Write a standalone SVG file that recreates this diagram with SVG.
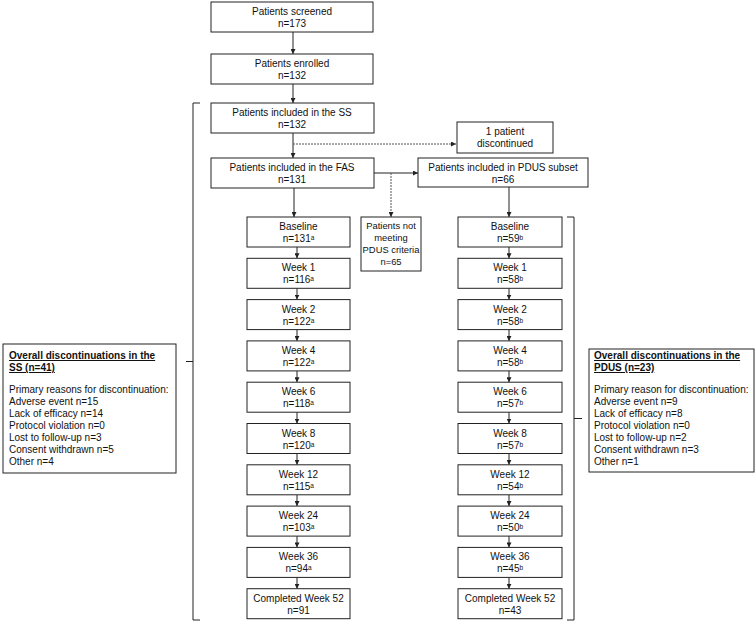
<svg xmlns="http://www.w3.org/2000/svg" width="756" height="626" viewBox="0 0 756 626">
<style>
text{font-family:"Liberation Sans",Arial,sans-serif;font-size:10px;fill:#111}
.c{text-anchor:middle}
.sm{font-size:9.4px}
.box{fill:#fff;stroke:#222;stroke-width:1}
.ln{fill:none;stroke:#222;stroke-width:1}
.dt{fill:none;stroke:#555;stroke-width:1;stroke-dasharray:2 1}
.sup{font-size:6.5px}
.h{font-weight:bold;text-decoration:underline}
</style>
<defs>
<marker id="ah" viewBox="0 0 10 10" refX="10" refY="5" markerWidth="5" markerHeight="5" orient="auto" markerUnits="userSpaceOnUse"><path d="M0,0 L10,5 L0,10 z" fill="#222"/></marker>
</defs>
<rect width="756" height="626" fill="#fff"/>
<g id="connectors">
<line class="ln" x1="293" y1="32" x2="293" y2="54" marker-end="url(#ah)"/>
<line class="ln" x1="293" y1="84" x2="293" y2="103" marker-end="url(#ah)"/>
<line class="ln" x1="293" y1="133" x2="293" y2="158" marker-end="url(#ah)"/>
<line class="dt" x1="293" y1="144" x2="456" y2="144" marker-end="url(#ah)"/>
<line class="ln" x1="374" y1="173" x2="418" y2="173" marker-end="url(#ah)"/>
<line class="dt" x1="391" y1="173" x2="391" y2="217" marker-end="url(#ah)"/>
<line class="ln" x1="294" y1="188" x2="294" y2="217" marker-end="url(#ah)"/>
<line class="ln" x1="509" y1="187" x2="509" y2="217" marker-end="url(#ah)"/>
<g id="leftarrows">
<line class="ln" x1="297" y1="247" x2="297" y2="258.3" marker-end="url(#ah)"/>
<line class="ln" x1="297" y1="288.3" x2="297" y2="299.6" marker-end="url(#ah)"/>
<line class="ln" x1="297" y1="329.6" x2="297" y2="340.9" marker-end="url(#ah)"/>
<line class="ln" x1="297" y1="370.9" x2="297" y2="382.2" marker-end="url(#ah)"/>
<line class="ln" x1="297" y1="412.2" x2="297" y2="423.5" marker-end="url(#ah)"/>
<line class="ln" x1="297" y1="453.5" x2="297" y2="464.8" marker-end="url(#ah)"/>
<line class="ln" x1="297" y1="494.8" x2="297" y2="506.1" marker-end="url(#ah)"/>
<line class="ln" x1="297" y1="536.1" x2="297" y2="547.4" marker-end="url(#ah)"/>
<line class="ln" x1="297" y1="577.4" x2="297" y2="588.7" marker-end="url(#ah)"/>
</g>
<g id="rightarrows">
<line class="ln" x1="509" y1="247" x2="509" y2="258.3" marker-end="url(#ah)"/>
<line class="ln" x1="509" y1="288.3" x2="509" y2="299.6" marker-end="url(#ah)"/>
<line class="ln" x1="509" y1="329.6" x2="509" y2="340.9" marker-end="url(#ah)"/>
<line class="ln" x1="509" y1="370.9" x2="509" y2="382.2" marker-end="url(#ah)"/>
<line class="ln" x1="509" y1="412.2" x2="509" y2="423.5" marker-end="url(#ah)"/>
<line class="ln" x1="509" y1="453.5" x2="509" y2="464.8" marker-end="url(#ah)"/>
<line class="ln" x1="509" y1="494.8" x2="509" y2="506.1" marker-end="url(#ah)"/>
<line class="ln" x1="509" y1="536.1" x2="509" y2="547.4" marker-end="url(#ah)"/>
<line class="ln" x1="509" y1="577.4" x2="509" y2="588.7" marker-end="url(#ah)"/>
</g>
<path class="ln" d="M200,103 H193 V620 H200 M193,361.5 H186"/>
<path class="ln" d="M567,217 H574 V620 H567 M574,418.5 H582"/>
</g>
<g id="screened"><rect class="box" x="211" y="2" width="162" height="30"/><text class="c" x="292" y="15">Patients screened</text><text class="c" x="292" y="27">n=173</text></g>
<g id="enrolled"><rect class="box" x="211" y="54" width="162" height="30"/><text class="c" x="292" y="67">Patients enrolled</text><text class="c" x="292" y="79">n=132</text></g>
<g id="ss"><rect class="box" x="211" y="103" width="163" height="30"/><text class="c" x="292" y="116">Patients included in the SS</text><text class="c" x="292" y="128">n=132</text></g>
<g id="disc1"><rect class="box" x="457" y="122" width="96" height="31"/><text class="c" x="505" y="135">1 patient</text><text class="c" x="505" y="147">discontinued</text></g>
<g id="fas"><rect class="box" x="211" y="158" width="163" height="30"/><text class="c" x="292" y="171">Patients included in the FAS</text><text class="c" x="292" y="183">n=131</text></g>
<g id="pdus"><rect class="box" x="418" y="158" width="170" height="29"/><text class="c" x="503" y="171">Patients included in PDUS subset</text><text class="c" x="503" y="183">n=66</text></g>
<g id="notmeeting"><rect class="box" x="361" y="217" width="60" height="54"/><text class="c sm" x="391" y="229">Patients not</text><text class="c sm" x="391" y="241">meeting</text><text class="c sm" x="391" y="253">PDUS criteria</text><text class="c sm" x="391" y="265">n=65</text></g>
<g id="L0"><rect class="box" x="247" y="217" width="103" height="30"/><text class="c" x="298.5" y="230">Baseline</text><text class="c" x="298.5" y="242">n=131<tspan class="sup" dy="-2">a</tspan></text></g>
<g id="L1"><rect class="box" x="247" y="258.3" width="103" height="30"/><text class="c" x="298.5" y="271.3">Week 1</text><text class="c" x="298.5" y="283.3">n=116<tspan class="sup" dy="-2">a</tspan></text></g>
<g id="L2"><rect class="box" x="247" y="299.6" width="103" height="30"/><text class="c" x="298.5" y="312.6">Week 2</text><text class="c" x="298.5" y="324.6">n=122<tspan class="sup" dy="-2">a</tspan></text></g>
<g id="L3"><rect class="box" x="247" y="340.9" width="103" height="30"/><text class="c" x="298.5" y="353.9">Week 4</text><text class="c" x="298.5" y="365.9">n=122<tspan class="sup" dy="-2">a</tspan></text></g>
<g id="L4"><rect class="box" x="247" y="382.2" width="103" height="30"/><text class="c" x="298.5" y="395.2">Week 6</text><text class="c" x="298.5" y="407.2">n=118<tspan class="sup" dy="-2">a</tspan></text></g>
<g id="L5"><rect class="box" x="247" y="423.5" width="103" height="30"/><text class="c" x="298.5" y="436.5">Week 8</text><text class="c" x="298.5" y="448.5">n=120<tspan class="sup" dy="-2">a</tspan></text></g>
<g id="L6"><rect class="box" x="247" y="464.8" width="103" height="30"/><text class="c" x="298.5" y="477.8">Week 12</text><text class="c" x="298.5" y="489.8">n=115<tspan class="sup" dy="-2">a</tspan></text></g>
<g id="L7"><rect class="box" x="247" y="506.1" width="103" height="30"/><text class="c" x="298.5" y="519.1">Week 24</text><text class="c" x="298.5" y="531.1">n=103<tspan class="sup" dy="-2">a</tspan></text></g>
<g id="L8"><rect class="box" x="247" y="547.4" width="103" height="30"/><text class="c" x="298.5" y="560.4">Week 36</text><text class="c" x="298.5" y="572.4">n=94<tspan class="sup" dy="-2">a</tspan></text></g>
<g id="L9"><rect class="box" x="247" y="588.7" width="103" height="30"/><text class="c" x="298.5" y="601.7">Completed Week 52</text><text class="c" x="298.5" y="613.7">n=91</text></g>
<g id="R0"><rect class="box" x="458" y="217" width="104" height="30"/><text class="c" x="510" y="230">Baseline</text><text class="c" x="510" y="242">n=59<tspan class="sup" dy="-2">b</tspan></text></g>
<g id="R1"><rect class="box" x="458" y="258.3" width="104" height="30"/><text class="c" x="510" y="271.3">Week 1</text><text class="c" x="510" y="283.3">n=58<tspan class="sup" dy="-2">b</tspan></text></g>
<g id="R2"><rect class="box" x="458" y="299.6" width="104" height="30"/><text class="c" x="510" y="312.6">Week 2</text><text class="c" x="510" y="324.6">n=58<tspan class="sup" dy="-2">b</tspan></text></g>
<g id="R3"><rect class="box" x="458" y="340.9" width="104" height="30"/><text class="c" x="510" y="353.9">Week 4</text><text class="c" x="510" y="365.9">n=58<tspan class="sup" dy="-2">b</tspan></text></g>
<g id="R4"><rect class="box" x="458" y="382.2" width="104" height="30"/><text class="c" x="510" y="395.2">Week 6</text><text class="c" x="510" y="407.2">n=57<tspan class="sup" dy="-2">b</tspan></text></g>
<g id="R5"><rect class="box" x="458" y="423.5" width="104" height="30"/><text class="c" x="510" y="436.5">Week 8</text><text class="c" x="510" y="448.5">n=57<tspan class="sup" dy="-2">b</tspan></text></g>
<g id="R6"><rect class="box" x="458" y="464.8" width="104" height="30"/><text class="c" x="510" y="477.8">Week 12</text><text class="c" x="510" y="489.8">n=54<tspan class="sup" dy="-2">b</tspan></text></g>
<g id="R7"><rect class="box" x="458" y="506.1" width="104" height="30"/><text class="c" x="510" y="519.1">Week 24</text><text class="c" x="510" y="531.1">n=50<tspan class="sup" dy="-2">b</tspan></text></g>
<g id="R8"><rect class="box" x="458" y="547.4" width="104" height="30"/><text class="c" x="510" y="560.4">Week 36</text><text class="c" x="510" y="572.4">n=45<tspan class="sup" dy="-2">b</tspan></text></g>
<g id="R9"><rect class="box" x="458" y="588.7" width="104" height="30"/><text class="c" x="510" y="601.7">Completed Week 52</text><text class="c" x="510" y="613.7">n=43</text></g>
<g id="ssdisc"><rect class="box" x="3" y="344" width="173" height="129"/>
<text class="h" x="9" y="359">Overall discontinuations in the</text>
<text class="h" x="9" y="371">SS (n=41)</text>
<text x="9" y="393">Primary reasons for discontinuation:</text>
<text x="9" y="405">Adverse event n=15</text>
<text x="9" y="417">Lack of efficacy n=14</text>
<text x="9" y="429">Protocol violation n=0</text>
<text x="9" y="441">Lost to follow-up n=3</text>
<text x="9" y="453">Consent withdrawn n=5</text>
<text x="9" y="465">Other n=4</text>
</g>
<g id="pdusdisc"><rect class="box" x="589" y="349" width="165" height="123"/>
<text class="h" x="594" y="359">Overall discontinuations in the</text>
<text class="h" x="594" y="371">PDUS (n=23)</text>
<text x="594" y="393">Primary reason for discontinuation:</text>
<text x="594" y="405">Adverse event n=9</text>
<text x="594" y="417">Lack of efficacy n=8</text>
<text x="594" y="429">Protocol violation n=0</text>
<text x="594" y="441">Lost to follow-up n=2</text>
<text x="594" y="453">Consent withdrawn n=3</text>
<text x="594" y="465">Other n=1</text>
</g>
</svg>
